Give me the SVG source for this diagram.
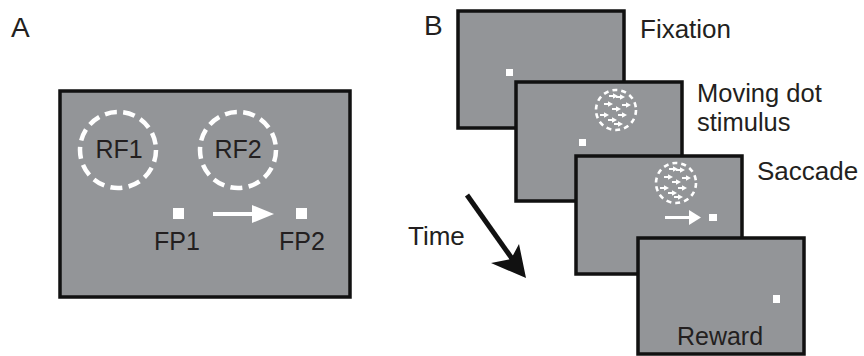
<svg xmlns="http://www.w3.org/2000/svg" xmlns:xlink="http://www.w3.org/1999/xlink" width="864" height="356" viewBox="0 0 864 356">
<style>
text{font-family:"Liberation Sans",Arial,sans-serif;fill:#231f20}
.scr{fill:#939598;stroke:#111;stroke-width:3.5}
.rf{fill:none;stroke:#fff;stroke-width:4.5;stroke-dasharray:12 6.4}
.dot{fill:#fff}
.lbl{font-size:25px}
.blbl{font-size:26px}
.mlbl{font-size:25.5px}
</style>
<defs>
<g id="mv">
<path d="M-4,0 h4" stroke="#fff" stroke-width="2"/>
<path d="M0,-2.8 L5,0 L0,2.8z" fill="#fff"/>
</g>
<g id="stim">
<circle r="20" fill="none" stroke="#fff" stroke-width="2.6" stroke-dasharray="5 4"/>
<use xlink:href="#mv" x="-3" y="-14"/>
<use xlink:href="#mv" x="4" y="-13"/>
<use xlink:href="#mv" x="-8" y="-6"/>
<use xlink:href="#mv" x="10" y="-5"/>
<use xlink:href="#mv" x="0" y="-1"/>
<use xlink:href="#mv" x="-12" y="5"/>
<use xlink:href="#mv" x="6" y="5"/>
<use xlink:href="#mv" x="-4" y="10"/>
<use xlink:href="#mv" x="2" y="14"/>
</g>
</defs>

<g id="panelA">
<text x="11" y="37" style="font-size:28px">A</text>
<rect class="scr" x="60" y="91" width="290" height="206"/>
<g id="rf1"><circle class="rf" cx="118" cy="150" r="38"/><text class="lbl" x="119" y="158" text-anchor="middle">RF1</text></g>
<g id="rf2"><circle class="rf" cx="238" cy="150" r="38"/><text class="lbl" x="238" y="158" text-anchor="middle">RF2</text></g>
<g id="fp1"><rect class="dot" x="173" y="208" width="11" height="11"/><text class="lbl" x="177" y="250" text-anchor="middle">FP1</text></g>
<g id="fp2"><rect class="dot" x="296" y="208" width="11" height="11"/><text class="lbl" x="302" y="250" text-anchor="middle">FP2</text></g>
</g>

<g id="panelB">
<text x="424" y="35" style="font-size:28px">B</text>
<g id="frame1">
<rect class="scr" x="458" y="11" width="166" height="117"/>
<rect class="dot" x="506" y="69" width="7" height="7"/>
<text class="blbl" x="640" y="38">Fixation</text>
</g>
<g id="frame2">
<rect class="scr" x="516" y="82" width="166" height="119"/>
<use xlink:href="#stim" x="616" y="110"/>
<rect class="dot" x="579" y="139" width="7" height="7"/>
<text class="mlbl" x="697" y="102">Moving dot</text>
<text class="mlbl" x="697" y="131">stimulus</text>
</g>
<g id="frame3">
<rect class="scr" x="576" y="156" width="166" height="118"/>
<use xlink:href="#stim" x="676" y="183"/>
<rect class="dot" x="709" y="214" width="8" height="7"/>
<text class="blbl" x="757" y="180">Saccade</text>
</g>
<g id="frame4">
<rect class="scr" x="638" y="238" width="166" height="116"/>
<rect class="dot" x="773" y="295" width="7" height="8"/>
<text class="lbl" x="720" y="345" text-anchor="middle">Reward</text>
</g>
<text class="blbl" x="408" y="245">Time</text>
</g>

<g id="connectors">
<path d="M213,214 H258" stroke="#fff" stroke-width="4"/>
<path d="M252,205 L274,214 L252,223z" fill="#fff"/>
<path d="M665,217.5 H691" stroke="#fff" stroke-width="3"/>
<path d="M689,210 L701,217.5 L689,225z" fill="#fff"/>
<path d="M467,195 L513,260" stroke="#111" stroke-width="5"/>
<path d="M526,278 L491,263 L511,259 L519,244z" fill="#111"/>
</g>
</svg>
